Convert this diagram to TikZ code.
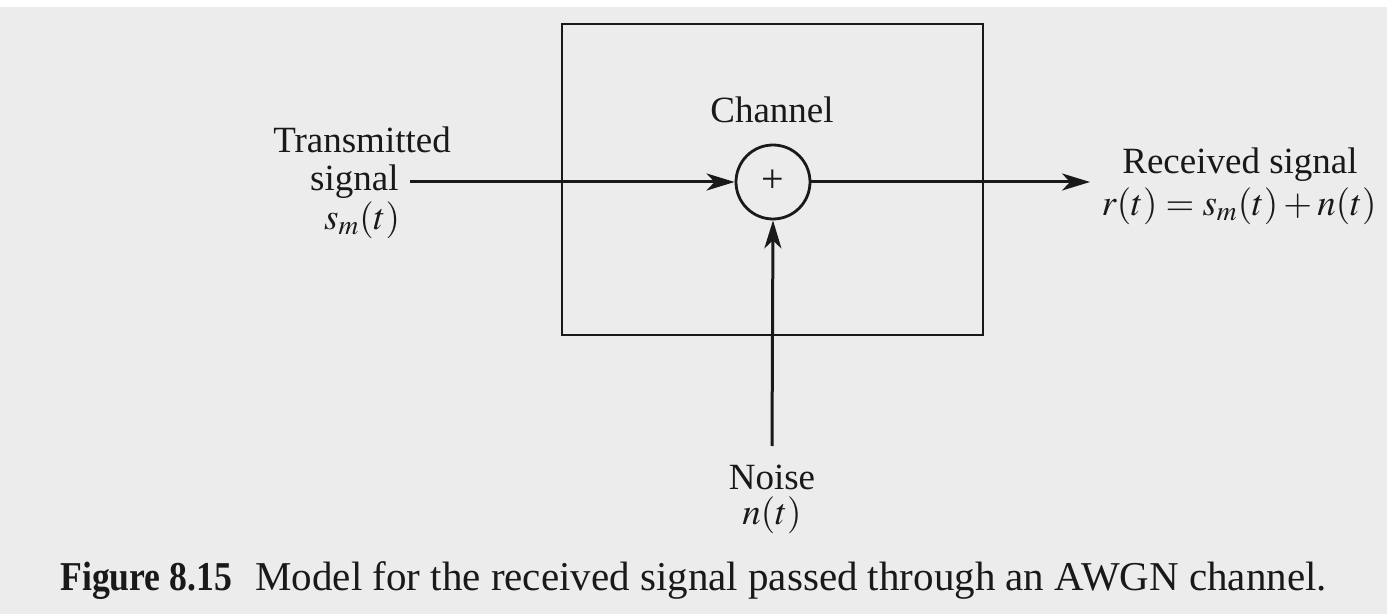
\documentclass[tikz,border=0pt]{standalone}
\usepackage{mathptmx}
\usepackage{fontspec}
\setmainfont{Liberation Serif}
\usetikzlibrary{arrows.meta}
\definecolor{paper}{RGB}{236,236,236}
\definecolor{ink}{RGB}{25,25,25}
\tikzset{
  lbl/.style={font=\fontsize{18.5pt}{21pt}\selectfont, text=ink, inner sep=0pt, align=center},
  caplbl/.style={font=\fontsize{20.5pt}{23pt}\selectfont, text=ink, inner sep=0pt},
  sig/.style={draw=ink, line width=1.5pt, -{Stealth[length=14pt,width=8.5pt,inset=4pt]}},
  chanbox/.style={draw=ink, line width=1.4pt},
  summer/.style={circle, draw=ink, line width=1.4pt, minimum size=37pt, inner sep=0pt}
}
\begin{document}
\begin{tikzpicture}[x=0.5pt,y=-0.5pt]
\fill[white] (0,0) rectangle (1387,614);
\fill[paper] (0,7) rectangle (1387,614);
\useasboundingbox (0,0) rectangle (1387,614);
% channel box
\node[chanbox, minimum width=210.5pt, minimum height=155.5pt, inner sep=0pt] (box) at (772.5,179.5) {};
\node[lbl] (chan) at (772,110) {Channel};
% summing junction
\node[summer] (sum) at (773,182) {};
\node[font=\fontsize{20pt}{20pt}\selectfont, text=ink, inner sep=0pt] (plus) at (773,181) {+};
% labels
\node[lbl] (tx1) at (362,140) {Transmitted};
\node[lbl, anchor=east] (tx2) at (399,182) {signal};
\node[lbl] (tx3) at (362,220) {$s_m(t)$};
\coordinate (txin) at (410,182);
\node[lbl] (rx1) at (1240,165) {Received signal};
\node[lbl] (rx2) at (1239,206) {$r(t) = s_m(t) + n(t)$};
\coordinate (rxout) at (1090,182);
\node[lbl] (nz1) at (772,477) {Noise};
\node[lbl] (nz2) at (772,515) {$n(t)$};
\coordinate (nzin) at (772,446);
% connectors
\draw[sig] (txin) -- (sum.west);
\draw[sig] (sum.east) -- (rxout);
\draw[sig] (nzin) -- (sum.south);
% caption
\node[caplbl, anchor=base west] (capA) at (60,590) {\scalebox{0.87}[1]{\textbf{Figure 8.15}}};
\node[caplbl, anchor=base west] (capB) at (255,590) {Model for the received signal passed through an AWGN channel.};
\end{tikzpicture}
\end{document}
